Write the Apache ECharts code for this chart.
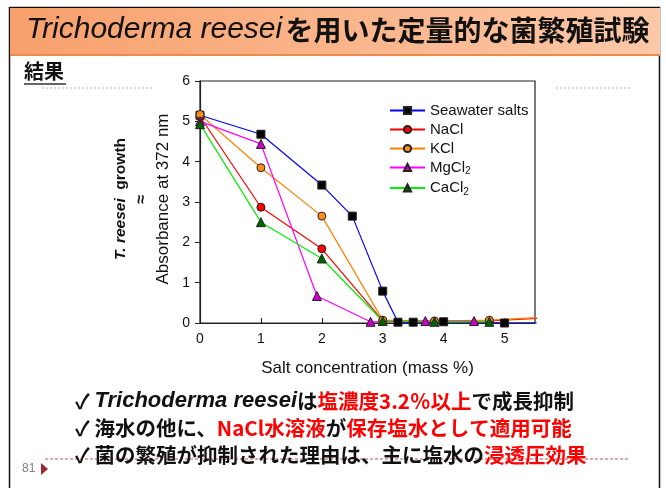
<!DOCTYPE html>
<html><head><meta charset="utf-8">
<script src="https://cdn.jsdelivr.net/npm/echarts@6/dist/echarts.min.js"></script>
<style>html,body{margin:0;padding:0;background:#fff}#c{width:666px;height:488px}</style>
</head><body><div id="c"></div>
<script>
// ---- data ----
const seriesNames = ['Seawater salts', 'NaCl', 'KCl', 'MgCl2', 'CaCl2'];
const seawaterX = [0, 1, 2, 2.5, 3, 3.25, 3.5, 4, 5, 6];
const seawaterY = [5.15, 4.68, 3.42, 2.65, 0.79, 0.02, 0.02, 0.03, 0.0, 0.0];
const naclX = [0, 1, 2, 3, 3.85, 4.75, 6];
const naclY = [5.12, 2.87, 1.84, 0.06, 0.04, 0.05, 0.15];
const kclX = [0, 1, 2, 3, 3.85, 4.75, 6];
const kclY = [5.17, 3.85, 2.65, 0.07, 0.05, 0.07, 0.17];
const mgclX = [0, 1, 1.92, 2.8, 3.7, 4.5];
const mgclY = [5.0, 4.44, 0.67, 0.03, 0.05, 0.05];
const caclX = [0, 1, 2, 3, 3.85, 4.75];
const caclY = [4.93, 2.5, 1.6, 0.05, 0.03, 0.03];
const xTicks = [0, 1, 2, 3, 4, 5];
const yTicks = [0, 1, 2, 3, 4, 5, 6];

const pairs = (xs, ys) => xs.map((x, i) => [x, ys[i]]);
const chart = echarts.init(document.getElementById('c'));
const LAT = '"Liberation Sans", Arial, sans-serif';
const JP = '"Noto Sans CJK JP", "Liberation Sans", sans-serif';

function mk(name, xs, ys, line, fill, symbol, size) {
  return {
    name, type: 'line', data: pairs(xs, ys), clip: true,
    symbol, symbolSize: size,
    lineStyle: { color: line, width: 1.2 },
    itemStyle: { color: fill, borderColor: '#222', borderWidth: 1 },
    color: line
  };
}

const option = {
  animation: false,
  grid: { left: 200, top: 81, right: 131, bottom: 165, show: true, borderColor: '#222', borderWidth: 1.2 },
  xAxis: {
    type: 'value', min: 0, max: 5.5, interval: 1,
    name: 'Salt concentration (mass %)', nameLocation: 'middle', nameGap: 37,
    nameTextStyle: { fontFamily: LAT, fontSize: 17, color: '#111' },
    axisLine: { lineStyle: { color: '#222', width: 1.2 } },
    axisTick: { inside: true, length: 5, lineStyle: { color: '#222' } },
    axisLabel: { fontFamily: LAT, fontSize: 14, color: '#111', margin: 9, showMaxLabel: false,
      formatter: v => xTicks.includes(v) ? String(v) : '' },
    splitLine: { show: false }
  },
  yAxis: {
    type: 'value', min: 0, max: 6, interval: 1,
    axisLine: { show: true, lineStyle: { color: '#222', width: 1.2 } },
    axisTick: { show: true, inside: false, length: 5, lineStyle: { color: '#222' } },
    axisLabel: { fontFamily: LAT, fontSize: 14, color: '#111', margin: 10,
      formatter: v => yTicks.includes(v) ? String(v) : '' },
    splitLine: { show: false }
  },
  legend: {
    orient: 'vertical', left: 384, top: 98, itemWidth: 35, itemHeight: 9, itemGap: 4,
    data: seriesNames,
    textStyle: { fontFamily: LAT, fontSize: 15, color: '#111',
      rich: { sub: { fontFamily: LAT, fontSize: 10, color: '#111', verticalAlign: 'bottom', padding: [8, 0, 0, 0] } } },
    formatter: n => n.replace(/(Cl)2$/, '$1{sub|2}')
  },
  series: [
    mk('Seawater salts', seawaterX, seawaterY, '#0000ff', '#000000', 'rect', 8),
    mk('NaCl', naclX, naclY, '#ff0000', '#ff0000', 'circle', 8),
    mk('KCl', kclX, kclY, '#ff8000', '#ff8c1a', 'circle', 8),
    mk('MgCl2', mgclX, mgclY, '#ff00ff', '#cc00cc', 'triangle', 9),
    mk('CaCl2', caclX, caclY, '#00ee00', '#006400', 'triangle', 9)
  ],
  graphic: [
    // page border
    { type: 'rect', shape: { x: 9.5, y: 7.5, width: 650, height: 490 }, style: { fill: 'none', stroke: '#111', lineWidth: 1.5 }, z: 0 },
    // title bar
    { type: 'rect', shape: { x: 10, y: 8, width: 650, height: 47 },
      style: { fill: new echarts.graphic.LinearGradient(0, 0, 1, 0, [
        { offset: 0, color: '#f8a06c' }, { offset: 1, color: '#fcc8a8' }]) }, z: 1 },
    { type: 'line', shape: { x1: 10, y1: 55, x2: 660, y2: 55 }, style: { stroke: '#f08a4a', lineWidth: 2 }, z: 2 },
    { type: 'text', left: 26, top: 15, z: 3,
      style: { text: '{i|Trichoderma reesei} {b|を用いた定量的な菌繁殖試験}',
        rich: { i: { fontFamily: LAT, fontStyle: 'italic', fontSize: 30, fill: '#111' },
                b: { fontFamily: JP, fontWeight: 'bold', fontSize: 28, fill: '#111' } } } },
    // section header
    { type: 'text', left: 24, top: 61, z: 3,
      style: { text: '結果', fontFamily: JP, fontWeight: 'bold', fontSize: 20, fill: '#111' } },
    { type: 'line', shape: { x1: 24, y1: 84, x2: 66, y2: 84 }, style: { stroke: '#333', lineWidth: 1.5 }, z: 3 },
    { type: 'line', shape: { x1: 42, y1: 88, x2: 152, y2: 88 }, style: { stroke: '#e8a4a8', lineWidth: 1, lineDash: [2, 2] }, z: 3 },
    { type: 'line', shape: { x1: 556, y1: 88, x2: 630, y2: 88 }, style: { stroke: '#e8a4a8', lineWidth: 1, lineDash: [2, 2] }, z: 3 },
    // y axis title (rotated)
    { type: 'text', x: 142, y: 199, rotation: Math.PI / 2, z: 3,
      style: { text: '{bi|T. reesei}{b|  growth}\n{m|≈}\n{r|Absorbance at 372 nm}', align: 'center', verticalAlign: 'middle',
        rich: { bi: { fontFamily: LAT, fontWeight: 'bold', fontStyle: 'italic', fontSize: 15.5, fill: '#111', lineHeight: 21 },
                b: { fontFamily: LAT, fontWeight: 'bold', fontSize: 15.5, fill: '#111', lineHeight: 21 },
                m: { fontFamily: LAT, fontWeight: 'bold', fontSize: 16, fill: '#111', lineHeight: 21 },
                r: { fontFamily: LAT, fontSize: 17, fill: '#111', lineHeight: 21 } } } },
    // bottom bullet text
    { type: 'text', left: 75, top: 390, z: 3,
      style: { text: '{k|✓ }{i|Trichoderma reesei}{k|は}{r|塩濃度3.2％以上}{k|で成長抑制}\n' +
                     '{k|✓ 海水の他に、}{r|NaCl水溶液}{k|が}{r|保存塩水として適用可能}\n' +
                     '{k|✓ 菌の繁殖が抑制された理由は、主に塩水の}{r|浸透圧効果}',
        rich: { k: { fontFamily: JP, fontWeight: 'bold', fontSize: 20.5, fill: '#111', lineHeight: 27 },
                r: { fontFamily: JP, fontWeight: 'bold', fontSize: 20.5, fill: '#ff0000', lineHeight: 27 },
                i: { fontFamily: LAT, fontStyle: 'italic', fontWeight: 'bold', fontSize: 22, fill: '#111', lineHeight: 27 } } } },
    { type: 'line', shape: { x1: 45, y1: 459, x2: 630, y2: 459 }, style: { stroke: '#c0504d', lineWidth: 1, lineDash: [3, 2] }, z: 2 },
    { type: 'text', left: 22, top: 463, z: 3, style: { text: '81', fontFamily: LAT, fontSize: 12, fill: '#7f7f7f' } },
    { type: 'polygon', shape: { points: [[41, 463], [48, 469], [41, 475]] }, style: { fill: '#9e2a2f' }, z: 3 }
  ]
};
chart.setOption(option);
</script></body></html>
